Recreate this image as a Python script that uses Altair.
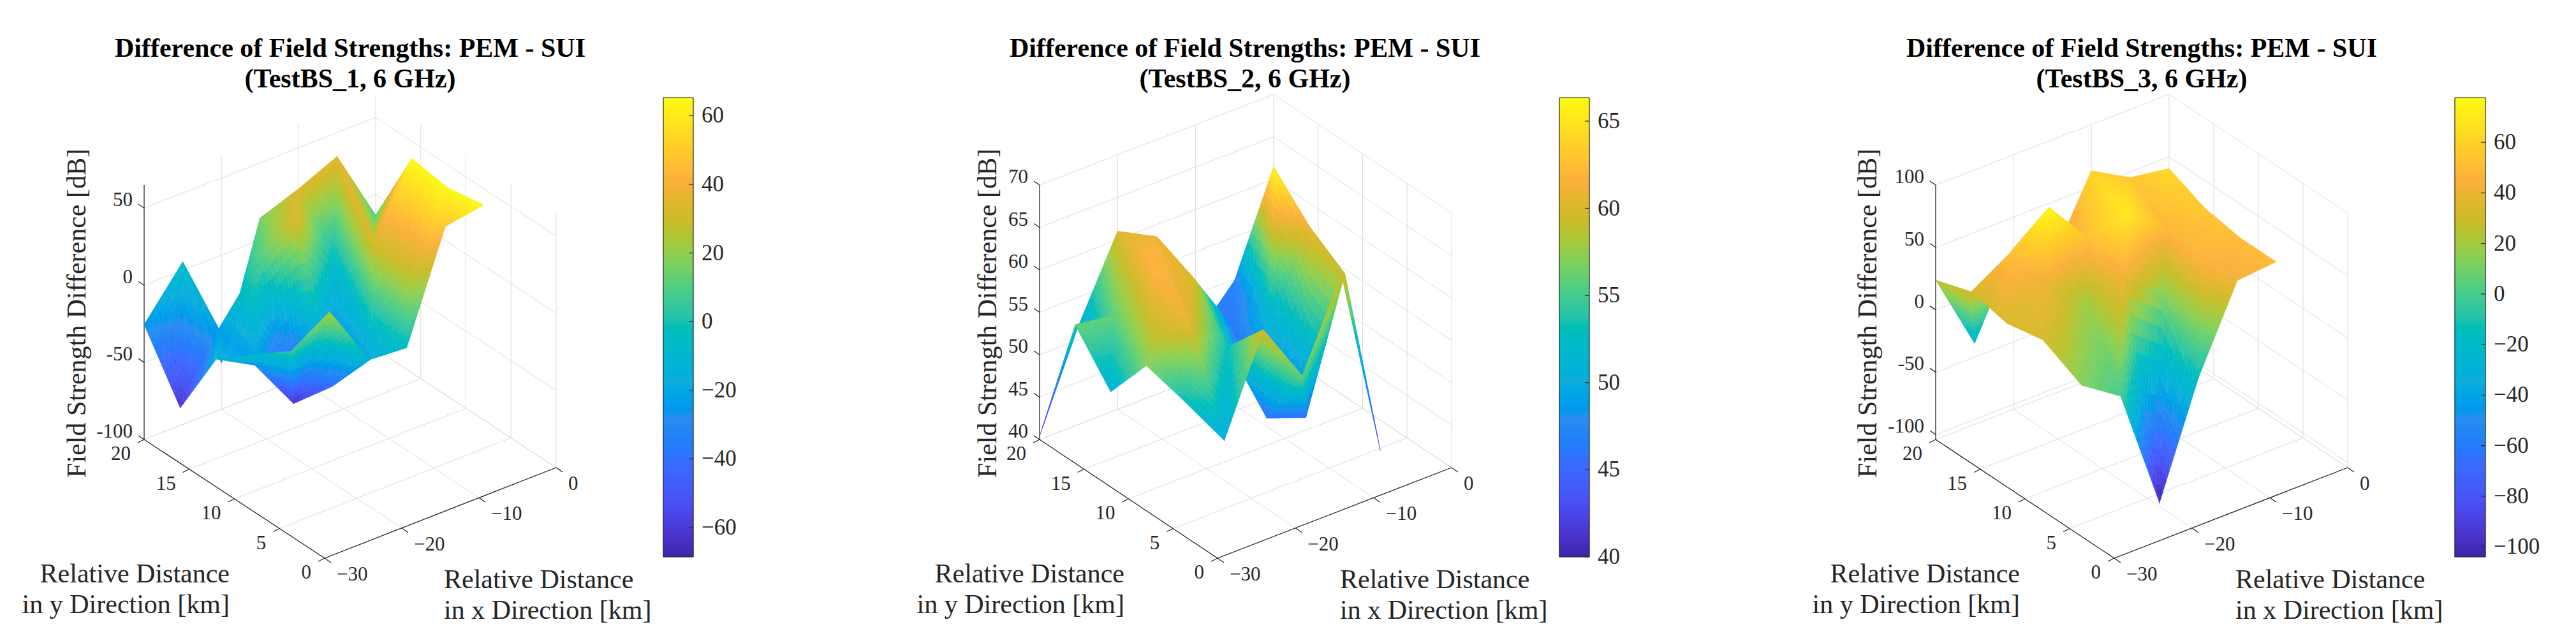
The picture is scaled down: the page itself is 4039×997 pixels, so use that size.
import altair as alt

alt.data_transformers.disable_max_rows()

W, H = 4023, 975
FONT = "Liberation Serif"
PARULA = ["#3e26a8", "#4a35cf", "#4a50f5", "#3a6bff", "#2a8df0", "#14aedc", "#00bac8",
          "#2ec4a4", "#5ccf7a", "#8fcf4f", "#c9bc28", "#fbb03b", "#ffc52e", "#f9fb15"]
PARULA_POS = [0, .05, .12, .2, .3, .38, .47, .53, .6, .66, .73, .82, .87, 1]

X_NODES = [-30, -25, -20, -15, -10, -5, 0]
Y_NODES = [20, 16, 12, 8]

# heights (dB) per y row, per x node
Z1 = [[-25.5, 5.5, -70, 14.2, 23.4, 34.7, -13.2],
      [-64.2, -22.6, 9.7, 27.6, -7.6, -5.3, 38.9],
      [-17.1, -30.8, -65.5, -64.2, -56.3, -14.7, 35.3],
      [0.8, -6.3, 9.5, -30.3, -33.4, 35.3, 39.5]]
C1 = [[-25, -5, -28, 15, 33, 36, 8],
      [-62, -22, 8, 33, -5, 32, 65],
      [-15, -25, -62, -42, -20, 26, 65],
      [-5, 5, 25, -10, -5, 48, 65]]
Z2 = [[40.4, 51.7, 61, 58.6, 44.9, 49.9, 61.5],
      [56.3, 55.7, 59.9, 56.7, 49.2, 48.3, 57.3],
      [51.2, 54.4, 56.5, 51.2, 41, 39.3, 54.5],
      [57.1, 51, 44.7, 56, 48.8, 59, 36.4]]
C2 = [[41, 50, 60, 61, 46, 47, 66],
      [56, 56, 62, 60, 46, 51, 61],
      [51, 58, 61, 53, 46, 46, 59],
      [57, 53, 50, 60, 56, 60, 41]]
Z3 = [[23.8, -39, 24.8, 4.4, 63, 45.5, 40.7],
      [33.5, 52.6, 77, 40, 49, 24, 28],
      [27, 46, 21, 28, 3, 14, 22.9],
      [32.9, -15.7, -36.4, -134, -46, 20, 22.9]]
C3 = [[25, -28, 30, 30, 60, 55, 62],
      [33, 52, 77, 52, 70, 48, 55],
      [33, 40, 20, 42, 15, 45, 50],
      [33, 13, 0, -104, -15, 42, 50]]

X_TICKS = [-30, -20, -10, 0]
Y_TICKS = [0, 5, 10, 15, 20]

PANELS = [
    dict(name="TestBS_1", Z=Z1, C=C1, zlim=(-100, 65), zticks=[-100, -50, 0, 50], dom=(-68.6, 65.3),
         cticks=[-60, -40, -20, 0, 20, 40, 60], A=(226, 689), B=(509, 875), C_=(872, 733),
         bar=(1040, 1087), title_x=549, zlab_x=121, left_x=360, right_x=696),
    dict(name="TestBS_2", Z=Z2, C=C2, zlim=(40, 70), zticks=[40, 45, 50, 55, 60, 65, 70], dom=(40, 66.35),
         cticks=[40, 45, 50, 55, 60, 65], A=(1630, 689), B=(1909, 875), C_=(2276, 733),
         bar=(2445, 2492), title_x=1952, zlab_x=1549, left_x=1763, right_x=2101),
    dict(name="TestBS_3", Z=Z3, C=C3, zlim=(-104, 100), zticks=[-100, -50, 0, 50, 100], dom=(-104, 77.7),
         cticks=[-100, -80, -60, -40, -20, 0, 20, 40, 60], A=(3035, 689), B=(3315, 875), C_=(3681, 733),
         bar=(3849, 3897), title_x=3358, zlab_x=2929, left_x=3167, right_x=3505),
]
Z_H = 399
BAR_TOP, BAR_BOT = 153, 873
OFF = 8
SUB = 12


def projector(p):
    (ax, ay), (bx, by), (cx, cy) = p["A"], p["B"], p["C_"]
    z0, z1 = p["zlim"]

    def proj(x, y, z):
        u, v = (x + 30) / 30, (20 - y) / 20
        return (ax + u * (cx - bx) + v * (bx - ax) - OFF,
                ay + u * (cy - by) + v * (by - ay) - (z - z0) / (z1 - z0) * Z_H - OFF)
    return proj


def poly(pts, c):
    ring = [[round(a, 1), round(b, 1)] for a, b in pts]
    ring.append(ring[0])
    return {"type": "Feature", "geometry": {"type": "Polygon", "coordinates": [ring]}, "properties": {"c": c}}


def line(pts):
    return {"type": "Feature", "properties": {},
            "geometry": {"type": "LineString", "coordinates": [[round(a, 1), round(b, 1)] for a, b in pts]}}


def surface(p):
    proj = projector(p)
    Z, C = p["Z"], p["C"]
    z0 = p["zlim"][0]
    out = []
    for j in range(len(Y_NODES) - 1):
        for i in range(len(X_NODES) - 1):
            v = lambda a, b: (X_NODES[a], Y_NODES[b], Z[b][a], C[b][a])
            tris = [(v(i, j), v(i + 1, j), v(i, j + 1)), (v(i + 1, j), v(i + 1, j + 1), v(i, j + 1))]
            for t0, t1, t2 in tris:
                def at(a, b):
                    w = (SUB - a - b) / SUB, a / SUB, b / SUB
                    return tuple(w[0] * t0[k] + w[1] * t1[k] + w[2] * t2[k] for k in range(4))
                cells = []
                for a in range(SUB):
                    for b in range(SUB - a):
                        cells.append((at(a, b), at(a + 1, b), at(a, b + 1)))
                        if a + b < SUB - 1:
                            cells.append((at(a + 1, b), at(a + 1, b + 1), at(a, b + 1)))
                for c in cells:
                    pts = [proj(q[0], q[1], q[2]) for q in c]
                    cx, cy = sum(q[0] for q in c) / 3, sum(q[1] for q in c) / 3
                    depth = proj(cx, cy, z0)[1]
                    out.append((depth, poly(pts, round(sum(q[3] for q in c) / 3, 2))))
    out.sort(key=lambda r: r[0])
    return [r[1] for r in out]


def colorbar(p):
    x0, x1 = p["bar"]
    d0, d1 = p["dom"]
    n = 180
    out = []
    for k in range(n):
        t0, t1 = BAR_BOT - (BAR_BOT - BAR_TOP) * k / n, BAR_BOT - (BAR_BOT - BAR_TOP) * (k + 1) / n
        out.append(poly([(x0 - OFF, t0 - OFF), (x1 - OFF, t0 - OFF), (x1 - OFF, t1 - OFF), (x0 - OFF, t1 - OFF)],
                        round(d0 + (d1 - d0) * (k + .5) / n, 2)))
    return out


grid, axes_l, bar_l = [], [], []
t_title, t_left, t_right, t_rot, t_rtick, t_ltick, t_cbar = [], [], [], [], [], [], []
for p in PANELS:
    proj = projector(p)
    z0, z1 = p["zlim"]
    for zt in p["zticks"]:
        grid.append(line([proj(-30, 20, zt), proj(0, 20, zt), proj(0, 0, zt)]))
        a = proj(-30, 20, zt)
        axes_l.append(line([a, (a[0] - 9, a[1] - 6)]))
        t_rtick.append({"sx": a[0] - 18, "sy": a[1] - 12, "t": str(zt)})
    for xt in X_TICKS[1:]:
        grid.append(line([proj(xt, 20, z0), proj(xt, 20, z1)]))
        grid.append(line([proj(xt, 0, z0), proj(xt, 20, z0)]))
    for yt in Y_TICKS[:-1]:
        grid.append(line([proj(0, yt, z0), proj(0, yt, z1)]))
        grid.append(line([proj(-30, yt, z0), proj(0, yt, z0)]))
    grid.append(line([proj(-30, 20, z0), proj(0, 20, z0), proj(0, 0, z0)]))
    axes_l.append(line([proj(-30, 20, z0), proj(-30, 20, z1)]))
    axes_l.append(line([proj(-30, 20, z0), proj(-30, 0, z0), proj(0, 0, z0)]))
    for xt in X_TICKS:
        a = proj(xt, 0, z0)
        axes_l.append(line([a, (a[0] + 10, a[1] + 7)]))
        t_ltick.append({"sx": a[0] + 19, "sy": a[1] + 26, "t": str(xt).replace("-", "\u2212")})
    for yt in Y_TICKS:
        a = proj(-30, yt, z0)
        axes_l.append(line([a, (a[0] - 10, a[1] + 5)]))
        t_rtick.append({"sx": a[0] - 21, "sy": a[1] + 23, "t": str(yt)})
    t_title.append({"sx": p["title_x"] - OFF, "sy": 76 - OFF, "t": "Difference of Field Strengths: PEM - SUI"})
    t_title.append({"sx": p["title_x"] - OFF, "sy": 124 - OFF, "t": f"({p['name']}, 6 GHz)"})
    t_rot.append({"sx": p["zlab_x"] - OFF, "sy": 491 - OFF, "t": "Field Strength Difference [dB]"})
    t_right.append({"sx": p["left_x"] - OFF, "sy": 900 - OFF, "t": "Relative Distance"})
    t_right.append({"sx": p["left_x"] - OFF, "sy": 948 - OFF, "t": "in y Direction [km]"})
    t_left.append({"sx": p["right_x"] - OFF, "sy": 909 - OFF, "t": "Relative Distance"})
    t_left.append({"sx": p["right_x"] - OFF, "sy": 957 - OFF, "t": "in x Direction [km]"})
    x0, x1 = p["bar"]
    d0, d1 = p["dom"]
    corners = [(x0 - OFF, BAR_TOP - OFF), (x1 - OFF, BAR_TOP - OFF), (x1 - OFF, BAR_BOT - OFF), (x0 - OFF, BAR_BOT - OFF)]
    bar_l.append(line(corners + [corners[0]]))
    for ct in p["cticks"]:
        yy = BAR_BOT - (ct - d0) / (d1 - d0) * (BAR_BOT - BAR_TOP) - OFF
        bar_l.append(line([(x1 - OFF - 7, yy), (x1 - OFF, yy)]))
        t_cbar.append({"sx": x1 - OFF + 13, "sy": yy, "t": str(ct).replace("-", "\u2212")})

PROJ = dict(type="identity", scale=1, translate=[0, 0])


def lines_layer(rows, color, width):
    return alt.Chart(alt.Data(values=rows)).mark_geoshape(filled=False, stroke=color, strokeWidth=width).project(**PROJ)


def surf_layer(p):
    sc = alt.Scale(domain=[p["dom"][0] + (p["dom"][1] - p["dom"][0]) * t for t in PARULA_POS], range=PARULA,
                   clamp=True, zero=False, nice=False)
    return alt.Chart(alt.Data(values=colorbar(p) + surface(p))).mark_geoshape(strokeWidth=0.5).encode(
        color=alt.Color("properties.c:Q", scale=sc, legend=None),
        stroke=alt.Stroke("properties.c:Q", scale=sc, legend=None),
    ).project(**PROJ)


xs = alt.X("sx:Q", scale=alt.Scale(domain=[0, W], range=[0, W], nice=False, zero=False), axis=None)
ys = alt.Y("sy:Q", scale=alt.Scale(domain=[0, H], range=[0, H], nice=False, zero=False), axis=None)


def text_layer(rows, align, size, weight="normal", angle=0):
    return alt.Chart(alt.Data(values=rows)).mark_text(
        align=align, baseline="middle", font=FONT, fontSize=size, fontWeight=weight, angle=angle,
        color="#262626" if weight == "normal" else "#000000"
    ).encode(x=xs, y=ys, text="t:N")


layers = [lines_layer(grid, "#dcdcdc", 1), lines_layer(axes_l, "#262626", 1.3)]
layers += [surf_layer(p) for p in PANELS]
layers += [lines_layer(bar_l, "#262626", 1.2),
           text_layer(t_title, "center", 42, "bold"),
           text_layer(t_right, "right", 42),
           text_layer(t_left, "left", 42),
           text_layer(t_rot, "center", 42, angle=270),
           text_layer(t_rtick, "right", 31),
           text_layer(t_ltick, "left", 31),
           text_layer(t_cbar, "left", 35)]

chart = alt.layer(*layers).resolve_scale(color="independent", stroke="independent").properties(
    width=W, height=H, padding=0, autosize=alt.AutoSizeParams(type="none"), background="white"
).configure_view(stroke=None)

chart.save("out.html", embed_options={"renderer": "svg", "actions": False})
